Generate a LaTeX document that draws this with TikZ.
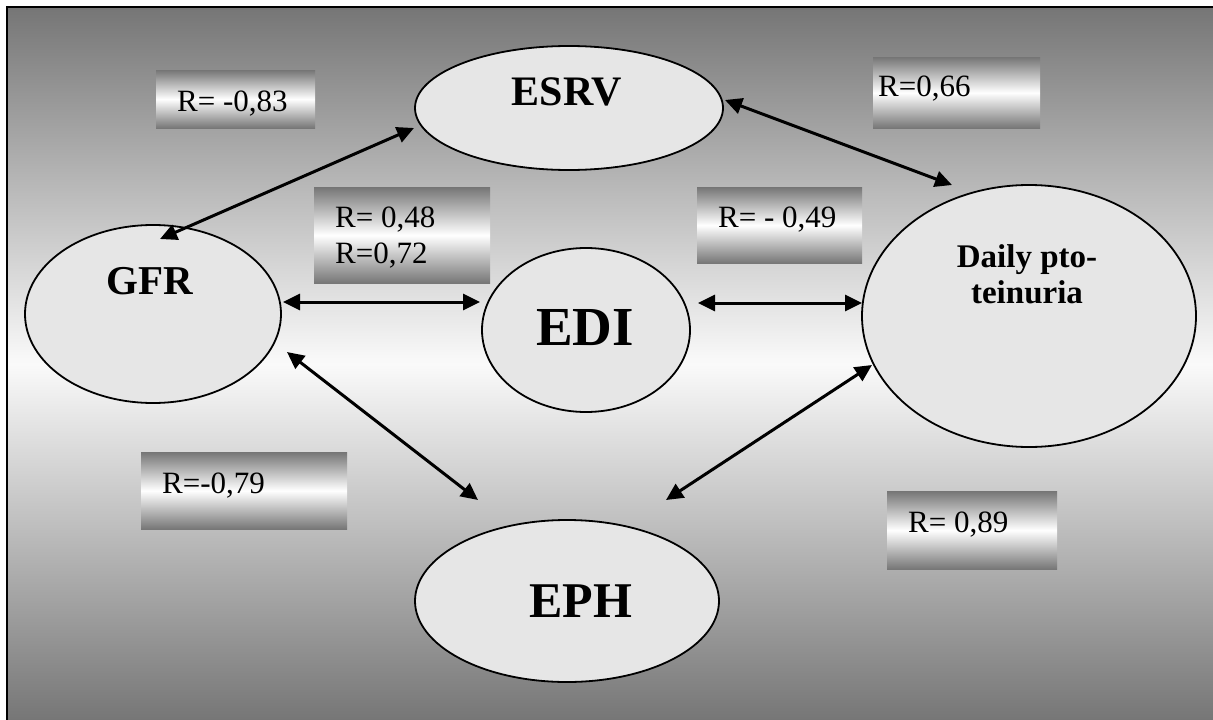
\documentclass[tikz,border=0pt]{standalone}
\usepackage{fontspec}
\setmainfont{Liberation Serif}
\usetikzlibrary{shapes.geometric,arrows.meta}
\definecolor{bgdark}{RGB}{118,118,118}
\definecolor{bglight}{RGB}{250,250,250}
\definecolor{ellfill}{RGB}{230,230,230}
\definecolor{boxdark}{RGB}{118,118,118}
\tikzset{
  oval/.style={ellipse, draw=black, line width=1.8pt, fill=ellfill, inner sep=0pt},
  rbox/.style={rectangle, inner sep=0pt, anchor=north west, top color=boxdark, bottom color=boxdark, middle color=white},
  rtext/.style={anchor=base west, inner sep=0pt, font=\fontsize{31}{36}\selectfont},
  ovtext/.style={inner sep=0pt, font=\bfseries\fontsize{#1}{#1}\selectfont},
  biarrow/.style={{Triangle[length=17pt,width=16pt]}-{Triangle[length=17pt,width=16pt]}, line width=3pt}
}
\begin{document}
\begin{tikzpicture}[x=1pt,y=-1pt]
\useasboundingbox (0,0) rectangle (1213,720);
% background
\shade[top color=bgdark, bottom color=bgdark, middle color=bglight] (8,8) rectangle (1213,720);
\draw[line width=2.6pt] (7,720) -- (7,7) -- (1213,7);

% label boxes
\node[rbox, minimum width=159pt, minimum height=58pt] (b1) at (156,70) {};
\node[rbox, minimum width=167pt, minimum height=71pt] (b2) at (873,57) {};
\node[rbox, minimum width=176pt, minimum height=96pt] (b3) at (314,187) {};
\node[rbox, minimum width=165pt, minimum height=76pt] (b4) at (697,187) {};
\node[rbox, minimum width=206pt, minimum height=77pt] (b5) at (141,452) {};
\node[rbox, minimum width=170pt, minimum height=78pt] (b6) at (887,491) {};

\node[rtext] (t1) at (177,111) {R= -0,83};
\node[rtext] (t2) at (878,96) {R=0,66};
\node[rtext] (t3a) at (335,227) {R= 0,48};
\node[rtext] (t3b) at (335,263) {R=0,72};
\node[rtext] (t4) at (718,227) {R= - 0,49};
\node[rtext] (t5) at (162,493) {R=-0,79};
\node[rtext] (t6) at (908,532) {R= 0,89};

% ellipses
\node[oval, minimum width=308pt, minimum height=124pt] (esrv) at (569,108) {};
\node[oval, minimum width=256pt, minimum height=178pt] (gfr) at (153,314) {};
\node[oval, minimum width=208pt, minimum height=164pt] (edi) at (586,330) {};
\node[oval, minimum width=334pt, minimum height=262pt] (daily) at (1029,316) {};
\node[oval, minimum width=304pt, minimum height=162pt] (eph) at (567,601) {};

\node[ovtext=42] (esrvT) at (567,92) {ESRV};
\node[ovtext=41] (gfrT) at (150,281) {GFR};
\node[ovtext=55] (ediT) at (585,328) {EDI};
\node[ovtext=50] (ephT) at (581,601) {EPH};
\node[ovtext=33, anchor=base] (dailyA) at (1027,267) {Daily pto-};
\node[ovtext=33, anchor=base] (dailyB) at (1027,303) {teinuria};

% connectors
\draw[biarrow] ([shift={(-155,20)}]esrv.center) -- ([shift={(7,-75)}]gfr.center);
\draw[biarrow] ([shift={(156,-8)}]esrv.center) -- ([shift={(-77,-131)}]daily.center);
\draw[biarrow] ([shift={(130,-12)}]gfr.center) -- ([shift={(-106,-28)}]edi.center);
\draw[biarrow] ([shift={(112,-27)}]edi.center) -- ([shift={(-167,-13)}]daily.center);
\draw[biarrow] ([shift={(134,38)}]gfr.center) -- ([shift={(-89,-101)}]eph.center);
\draw[biarrow] ([shift={(-157,49)}]daily.center) -- ([shift={(99,-101)}]eph.center);
\end{tikzpicture}
\end{document}
